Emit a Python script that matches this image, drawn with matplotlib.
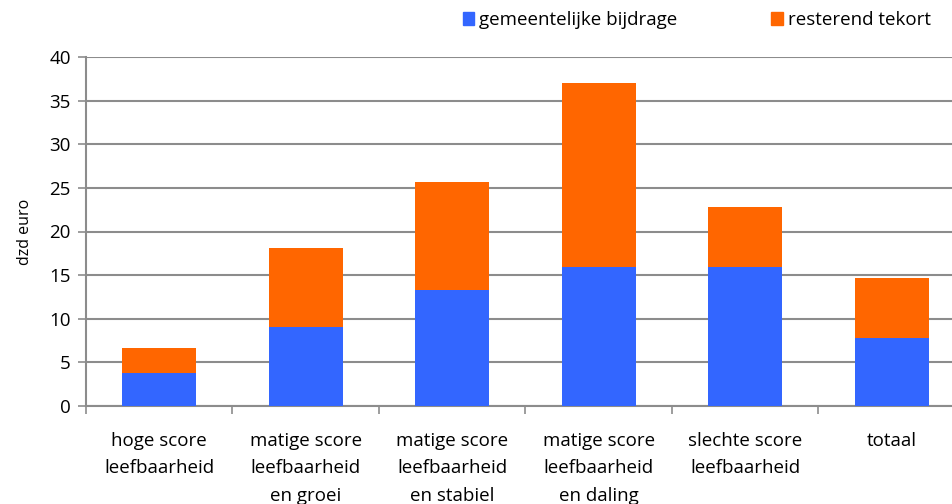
import numpy as np
import matplotlib.pyplot as plt
from matplotlib.patches import Patch

plt.rcParams["font.family"] = ["Open Sans", "DejaVu Sans"]

categories = [
    "hoge score\nleefbaarheid",
    "matige score\nleefbaarheid\nen groei",
    "matige score\nleefbaarheid\nen stabiel",
    "matige score\nleefbaarheid\nen daling",
    "slechte score\nleefbaarheid",
    "totaal",
]
gemeentelijk = [3.8, 9.0, 13.3, 15.9, 15.9, 7.8]
totaal = [6.6, 18.1, 25.7, 37.0, 22.8, 14.7]
resterend = [t - g for t, g in zip(totaal, gemeentelijk)]

blue = "#3366FF"
orange = "#FF6600"
grey = "#8C8C8C"

fig = plt.figure(figsize=(9.53, 5.04), dpi=100)
ax = fig.add_axes([86 / 953, 98 / 504, 879 / 953, 349 / 504])

x = np.arange(len(categories))
ax.bar(x, gemeentelijk, width=0.505, color=blue, zorder=3)
ax.bar(x, resterend, width=0.505, bottom=gemeentelijk, color=orange, zorder=3)

ax.set_xlim(-0.5, len(categories) - 0.5)
ax.set_ylim(0, 40)
ax.set_yticks(range(0, 41, 5))
ax.yaxis.grid(True, color=grey, lw=1.5, zorder=0)

ax.set_xticks(np.arange(-0.5, len(categories), 1.0))
ax.set_xticklabels([])
ax.set_xticks(x, minor=True)
ax.set_xticklabels(categories, minor=True, fontsize=13.5, linespacing=1.65)
ax.tick_params(axis="x", which="minor", length=0, pad=19)
ax.tick_params(axis="x", which="major", length=6, width=1.2, color=grey)
ax.tick_params(axis="y", length=6, width=1.2, color=grey, labelsize=13.5, pad=5)

for s in ["top", "right"]:
    ax.spines[s].set_visible(False)
for s in ["left", "bottom"]:
    ax.spines[s].set_color(grey)
    ax.spines[s].set_linewidth(1.5)

ax.set_ylabel("dzd euro", fontsize=11.5, labelpad=12)

handles = [Patch(color=blue, label="gemeentelijke bijdrage"),
           Patch(color=orange, label="resterend tekort")]
fig.legend(handles=handles, loc="center", bbox_to_anchor=(697 / 953, 1 - 20 / 504),
           ncol=2, frameon=False, fontsize=13.5, handlelength=0.6, handleheight=0.7,
           handletextpad=0.3, columnspacing=5.0)

fig.savefig("out.png", dpi=100)
